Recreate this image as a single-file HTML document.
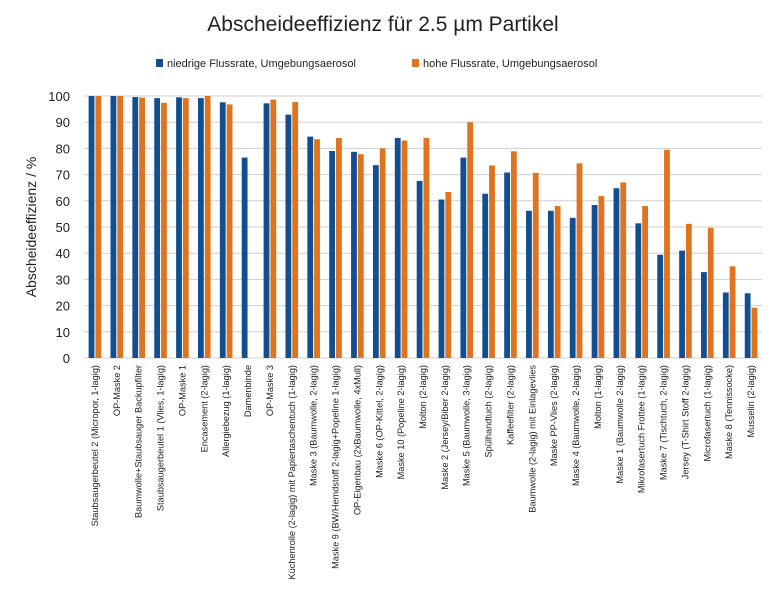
<!DOCTYPE html>
<html><head><meta charset="utf-8">
<style>
body{margin:0;background:#fff;}
svg{display:block;font-family:"Liberation Sans",sans-serif;}
</style></head>
<body>
<svg id="chart" width="770" height="592" viewBox="0 0 770 592" xmlns="http://www.w3.org/2000/svg">
<rect width="770" height="592" fill="#fff"/>
<text x="383" y="31" text-anchor="middle" font-size="21" fill="#222">Abscheideeffizienz für 2.5 µm Partikel</text>
<g>
<rect x="156" y="59" width="7" height="8" fill="#124f91"/>
<text x="167" y="67" font-size="11" fill="#222">niedrige Flussrate, Umgebungsaerosol</text>
<rect x="412" y="59" width="7" height="8" fill="#e0731f"/>
<text x="423" y="67" font-size="11" fill="#222">hohe Flussrate, Umgebungsaerosol</text>
</g>
<text transform="translate(36,227) rotate(-90)" text-anchor="middle" font-size="14" fill="#222">Abscheideeffizienz / %</text>
<g id="grid"></g><g id="bars"></g><g id="xl"></g>
</svg>
<script>
const categories=["Staubsaugerbeutel 2 (Micropor, 1-lagig)","OP-Maske 2","Baumwolle+Staubsauger Backupfilter","Staubsaugerbeutel 1 (Vlies, 1-lagig)","OP-Maske 1","Encasement (2-lagig)","Allergiebezug (1-lagig)","Damenbinde","OP-Maske 3","Küchenrolle (2-lagig) mit Papiertaschentuch (1-lagig)","Maske 3 (Baumwolle, 2-lagig)","Maske 9 (BW/Hemdstoff 2-lagig+Popeline 1-lagig)","OP-Eigenbau (2xBaumwolle, 4xMull)","Maske 6 (OP-Kittel, 2-lagig)","Maske 10 (Popeline 2-lagig)","Molton (2-lagig)","Maske 2 (Jersey/Biber 2-lagig)","Maske 5 (Baumwolle, 3-lagig)","Spülhandtuch (2-lagig)","Kaffeefilter (2-lagig)","Baumwolle (2-lagig) mit Einlagevlies","Maske PP-Vlies (2-lagig)","Maske 4 (Baumwolle, 2-lagig)","Molton (1-lagig)","Maske 1 (Baumwolle 2-lagig)","Mikrofasertuch Frottee (1-lagig)","Maske 7 (Tischtuch, 2-lagig)","Jersey (T-Shirt Stoff 2-lagig)","Microfasertuch (1-lagig)","Maske 8 (Tennissocke)","Musselin (2-lagig)"];
const lowFlow=[100,100,99.6,99.2,99.5,99.2,97.6,76.5,97.2,92.9,84.5,79,78.7,73.6,84,67.6,60.5,76.5,62.7,70.8,56.2,56.2,53.5,58.4,64.8,51.4,39.4,41,32.8,25,24.7];
const highFlow=[100,100,99.4,97.4,99.2,100,96.8,null,98.6,97.7,83.5,84,77.8,80,83,84,63.4,90,73.5,78.9,70.7,58,74.3,61.8,67,58,79.5,51.2,49.7,35,19.2];
const yTicks=[0,10,20,30,40,50,60,70,80,90,100];
const NS="http://www.w3.org/2000/svg";
const x0=84,x1=762,y0=358,yTop=96;
const y=v=>y0-(v/100)*(y0-yTop);
const bw=(x1-x0)/categories.length;
const xc=i=>x0+bw*(i+0.5);
function mk(t,a,p){const e=document.createElementNS(NS,t);for(const k in a)e.setAttribute(k,a[k]);p.appendChild(e);return e;}
const grid=document.getElementById('grid'),bars=document.getElementById('bars'),xl=document.getElementById('xl');
yTicks.forEach(t=>{
const l=mk('line',{x1:x0,x2:x1,y1:y(t),y2:y(t),stroke:'#d0d0d0','stroke-width':1},grid);


const tx=mk('text',{x:70,y:y(t)+5,'text-anchor':'end','font-size':13,fill:'#222'},grid);
tx.textContent=t;


});
categories.forEach((c,i)=>{
const w=5.8;
const b1=mk('rect',{x:xc(i)-w-0.5,y:y(lowFlow[i]),width:w,height:y0-y(lowFlow[i]),fill:'#124f91'},bars);


if(highFlow[i]!=null){
const b2=mk('rect',{x:xc(i)+0.5,y:y(highFlow[i]),width:w,height:y0-y(highFlow[i]),fill:'#e0731f'},bars);


}
const t=mk('text',{transform:`translate(${xc(i)+3},365) rotate(-90)`,'text-anchor':'end','font-size':9.2,fill:'#222'},xl);
t.textContent=c;


});
</script>
</body></html>
